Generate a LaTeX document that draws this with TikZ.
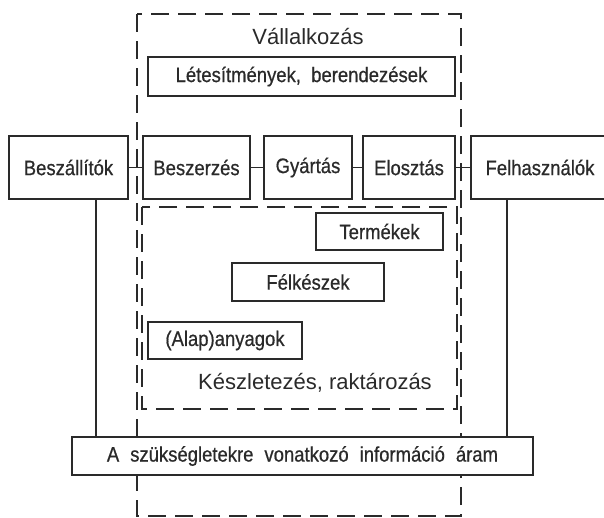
\documentclass[tikz,border=0pt]{standalone}
\usepackage{fontspec}
\setmainfont{Liberation Sans}
\newfontfamily\boxfont[FakeStretch=0.88,FakeBold=0.6]{Liberation Sans}
\definecolor{ink}{HTML}{2A2A2A}
\begin{document}
\begin{tikzpicture}[x=1pt,y=-1pt,
  box/.style={draw=ink, line width=1.3pt, fill=white, inner sep=0pt, text=ink,
    font=\boxfont\fontsize{21}{23}\selectfont},
  dashbox/.style={draw=ink, line width=1.3pt, dash pattern=on 18pt off 9pt},
  conn/.style={draw=ink, line width=1.3pt},
  lbl/.style={text=ink, inner sep=0pt, font=\fontsize{22}{24}\selectfont}]
\useasboundingbox (0,0) rectangle (604,517);
% outer dashed frame
\draw[dashbox] (137,14) rectangle (461,516);
\node[lbl] (vall) at (308,37) {Vállalkozás};
\node[box, minimum width=307pt, minimum height=39pt] (let) at (301.5,76.5) {Létesítmények, \ berendezések};
% inner dashed frame
\draw[dashbox] (142,207) rectangle (457,409);
\node[lbl] (kesz) at (315,383) {Készletezés, raktározás};
% row of boxes
\node[box, minimum width=119pt, minimum height=63pt] (besz) at (68.5,167.5) {Beszállítók};
\node[box, minimum width=107pt, minimum height=63pt] (beszer) at (196.5,167.5) {Beszerzés};
\node[box, minimum width=88pt, minimum height=63pt] (gyart) at (308,167.5) {Gyártás};
\node[box, minimum width=92pt, minimum height=63pt] (elo) at (409,167.5) {Elosztás};
\node[box, minimum width=138pt, minimum height=63pt] (felh) at (540,167.5) {Felhasználók};
\draw[conn] (besz) -- (beszer);
\draw[conn] (beszer) -- (gyart);
\draw[conn] (gyart) -- (elo);
\draw[conn] (elo) -- (felh);
% stock boxes
\node[box, minimum width=127pt, minimum height=37pt] (term) at (379.5,231.5) {Termékek};
\node[box, minimum width=152pt, minimum height=38pt] (felk) at (308,282) {Félkészek};
\node[box, minimum width=154pt, minimum height=37pt] (alap) at (225,340.5) {(Alap)anyagok};
% information box
\node[box, minimum width=461pt, minimum height=38pt] (info) at (302.5,456)
  {\spaceskip=11pt A szükségletekre vonatkozó információ áram};
\coordinate (bl) at ([xshift=27.5pt]besz.south);
\coordinate (fl) at ([xshift=-33pt]felh.south);
\draw[conn] (bl) -- (bl |- info.north);
\draw[conn] (fl) -- (fl |- info.north);
\end{tikzpicture}
\end{document}
